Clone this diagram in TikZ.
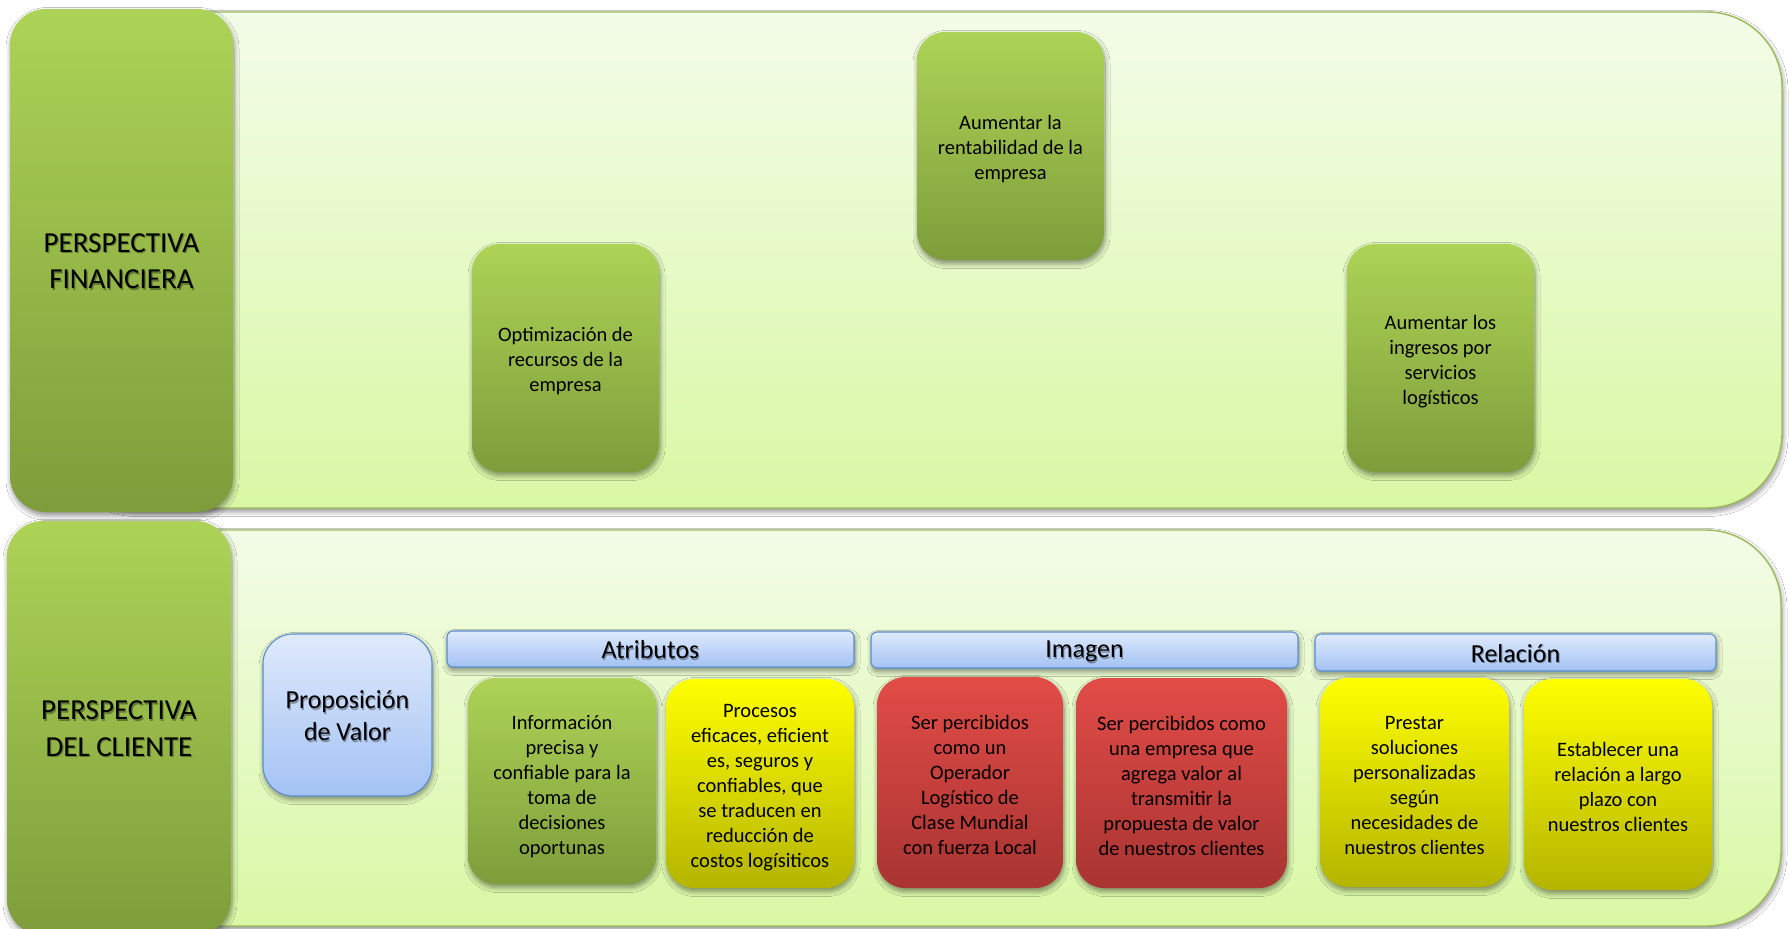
\documentclass[tikz,border=0pt]{standalone}
\usepackage{fontspec}
\setmainfont{Carlito}
\usetikzlibrary{shadows.blur}

\definecolor{gTop}{HTML}{ADD356}
\definecolor{gBot}{HTML}{7E9D3B}
\definecolor{pTop}{HTML}{F3FCE8}
\definecolor{pBot}{HTML}{D9F8A4}
\definecolor{pLine}{HTML}{9BBB59}
\definecolor{bTop}{HTML}{DFEAFC}
\definecolor{bBot}{HTML}{A3C2F3}
\definecolor{bLine}{HTML}{5A8CD2}
\definecolor{rTop}{HTML}{E24C47}
\definecolor{rBot}{HTML}{A83432}
\definecolor{yTop}{HTML}{FFFF00}
\definecolor{yBot}{HTML}{B4B400}

\newcommand\boxtxt{\fontsize{20.5}{25}\selectfont}
\newcommand\titletxt{\fontsize{29}{36.5}\selectfont}
\newcommand\headtxt{\fontsize{26}{31}\selectfont}
\newcommand\proptxt{\fontsize{26}{32}\selectfont}

\tikzset{
  softshadow/.style={blur shadow={shadow xshift=1pt, shadow yshift=-3.5pt,
      shadow blur radius=5pt, shadow blur steps=8, shadow opacity=45}},
  panel/.style={draw=pLine, line width=1.4pt, rounded corners=75pt,
      top color=pTop, bottom color=pBot, softshadow, inner sep=0pt},
  bar/.style={rounded corners=36pt, top color=gTop, bottom color=gBot,
      softshadow, inner sep=0pt},
  card/.style={rounded corners=28pt, softshadow, inner sep=0pt},
  greencard/.style={card, top color=gTop, bottom color=gBot},
  redcard/.style={card, top color=rTop, bottom color=rBot},
  yellowcard/.style={card, top color=yTop, bottom color=yBot},
  cardtext/.style={align=center, inner sep=0pt, font=\boxtxt, text=black},
  header/.style={draw=bLine, line width=1.1pt, rounded corners=6pt,
      top color=bTop, bottom color=bBot, softshadow, inner sep=0pt},
  propbox/.style={draw=bLine, line width=1.1pt, rounded corners=30pt,
      top color=bTop, bottom color=bBot, softshadow, inner sep=0pt},
  label/.style={align=center, inner sep=0pt, text=black},
  labelshadow/.style={align=center, inner sep=0pt, text=black, opacity=0.35},
}

\begin{document}
\begin{tikzpicture}[x=1pt, y=-1pt]
\useasboundingbox (0,0) rectangle (1789,929);
\clip (0,0) rectangle (1789,929);
\fill[white] (0,0) rectangle (1789,929);

% background panels of the two perspectives
\node[panel, minimum width=1722pt, minimum height=496pt] (finpanel) at (921,260) {};
\node[panel, minimum width=1721pt, minimum height=396pt] (clipanel) at (920.5,728) {};

% perspective bars
\node[bar, minimum width=223pt, minimum height=503pt] (finbar) at (121.5,260.5) {};
\node[bar, minimum width=224pt, minimum height=414pt] (clibar) at (119,728) {};

\node[labelshadow, font=\titletxt] (fintitlesh) at ([xshift=1.2pt, yshift=-2.3pt]finbar.center) {PERSPECTIVA\\FINANCIERA};
\node[label, font=\titletxt] (fintitle) at ([yshift=-0.5pt]finbar.center) {PERSPECTIVA\\FINANCIERA};
\node[labelshadow, font=\titletxt] (clititlesh) at ([xshift=1.2pt, yshift=-2.3pt]clibar.center) {PERSPECTIVA\\DEL CLIENTE};
\node[label, font=\titletxt] (clititle) at ([yshift=-0.5pt]clibar.center) {PERSPECTIVA\\DEL CLIENTE};

% financial objectives
\node[greencard, minimum width=187pt, minimum height=228pt] (optim) at (565.5,358) {};
\node[greencard, minimum width=187pt, minimum height=228pt] (rentab) at (1010.5,146) {};
\node[greencard, minimum width=187pt, minimum height=228pt] (ingresos) at (1440.5,358) {};
\node[cardtext] (optimtext) at ([yshift=-3.5pt]optim.center)
  {Optimización de\\recursos de la\\empresa};
\node[cardtext] (rentabtext) at ([yshift=-3.5pt]rentab.center)
  {Aumentar la\\rentabilidad de la\\empresa};
\node[cardtext] (ingresostext) at ([yshift=-3.5pt]ingresos.center)
  {Aumentar los\\ingresos por\\servicios\\logísticos};

% value proposition
\node[propbox, minimum width=169pt, minimum height=162pt] (prop) at (347.5,715) {};
\node[labelshadow, font=\proptxt] (proptextsh) at ([xshift=1pt, yshift=-2.5pt]prop.center) {Proposición\\de Valor};
\node[label, font=\proptxt] (proptext) at ([yshift=-1pt]prop.center) {Proposición\\de Valor};

% group headers
\node[header, minimum width=407pt, minimum height=36pt] (atrib) at (650.5,649) {};
\node[header, minimum width=427pt, minimum height=36pt] (imagen) at (1084.5,650) {};
\node[header, minimum width=401pt, minimum height=37pt] (relac) at (1515.5,652.5) {};

\node[labelshadow, font=\headtxt] (atribsh) at ([xshift=1pt, yshift=-2.5pt]atrib.center) {Atributos};
\node[label, font=\headtxt] (atribtext) at ([yshift=-1pt]atrib.center) {Atributos};
\node[labelshadow, font=\headtxt] (imagensh) at ([xshift=1pt, yshift=-3pt]imagen.center) {Imagen};
\node[label, font=\headtxt] (imagentext) at ([yshift=-1.5pt]imagen.center) {Imagen};
\node[labelshadow, font=\headtxt] (relacsh) at ([xshift=1pt, yshift=-2.5pt]relac.center) {Relación};
\node[label, font=\headtxt] (relactext) at ([yshift=-1pt]relac.center) {Relación};

% customer objectives
\node[greencard, minimum width=188pt, minimum height=206pt] (info) at (562,781) {};
\node[yellowcard, minimum width=188pt, minimum height=209pt] (procesos) at (760,783.5) {};
\node[redcard, minimum width=186pt, minimum height=211pt] (operador) at (970,782.5) {};
\node[redcard, minimum width=211pt, minimum height=210pt] (agrega) at (1181.5,783) {};
\node[yellowcard, minimum width=189pt, minimum height=209pt] (prestar) at (1414.5,782.5) {};
\node[yellowcard, minimum width=188pt, minimum height=211pt] (establecer) at (1618,784.5) {};

\node[cardtext] (infotext) at ([yshift=-5.5pt]info.center)
  {Información\\precisa y\\confiable para la\\toma de\\decisiones\\oportunas};
\node[cardtext] (procesostext) at ([yshift=-4pt]procesos.center)
  {Procesos\\eficaces, eficient\\es, seguros y\\confiables, que\\se traducen en\\reducción de\\costos logísiticos};
\node[cardtext] (operadortext) at ([yshift=-2.5pt]operador.center)
  {Ser percibidos\\como un\\Operador\\Logístico de\\Clase Mundial\\con fuerza Local};
\node[cardtext] (agregatext) at ([yshift=-2.5pt]agrega.center)
  {Ser percibidos como\\una empresa que\\agrega valor al\\transmitir la\\propuesta de valor\\de nuestros clientes};
\node[cardtext] (prestartext) at ([yshift=-3pt]prestar.center)
  {Prestar\\soluciones\\personalizadas\\según\\necesidades de\\nuestros clientes};
\node[cardtext] (establecertext) at ([yshift=-2.5pt]establecer.center)
  {Establecer una\\relación a largo\\plazo con\\nuestros clientes};
\end{tikzpicture}
\end{document}
